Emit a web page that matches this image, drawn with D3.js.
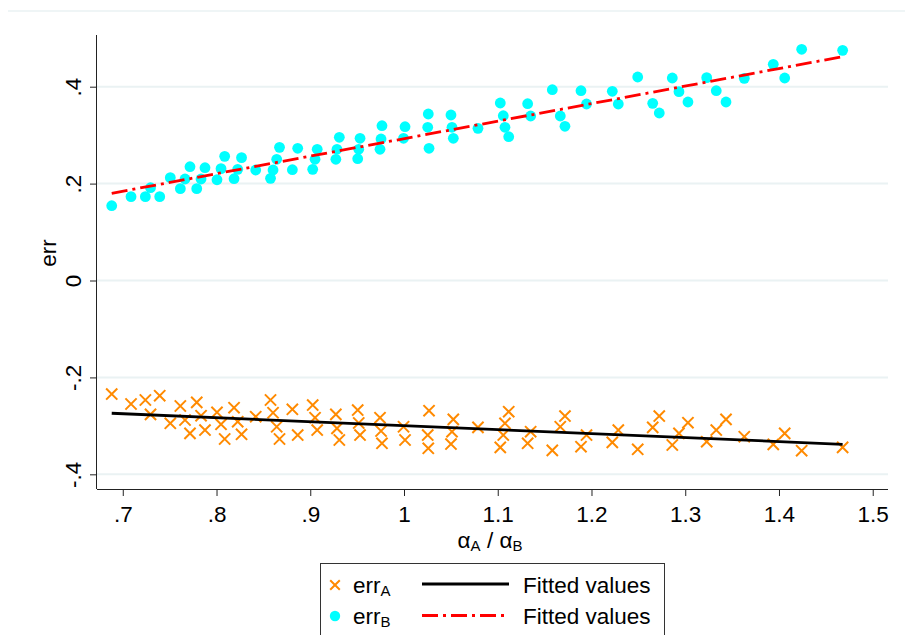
<!DOCTYPE html>
<html>
<head>
<meta charset="utf-8">
<script src="https://cdn.jsdelivr.net/npm/d3@7/dist/d3.min.js"></script>
<style>
  html, body { margin: 0; padding: 0; background: #fff; }
  svg { display: block; }
  text { font-family: "Liberation Sans", Arial, Helvetica, sans-serif; fill: #000; }
</style>
</head>
<body>
<svg id="chart" width="905" height="635"></svg>
<script>
// ---- data ----
const ratio = [0.6882,0.7088,0.7241,0.7296,0.7394,0.7507,0.7614,0.7664,0.7717,0.7789,
  0.7835,0.7877,0.8005,0.8048,0.8087,0.8187,0.8226,0.8267,0.8418,0.8576,
  0.8603,0.8642,0.8672,0.8809,0.8866,0.9026,0.9051,0.9074,0.9273,0.9285,
  0.9310,0.9506,0.9517,0.9531,0.9744,0.9755,0.9765,0.9995,1.0011,1.0253,
  1.0259,1.0267,1.0501,1.0512,1.0526,1.0789,1.1027,1.1059,1.1077,1.1117,
  1.1319,1.1351,1.1582,1.1667,1.1717,1.1888,1.1947,1.2222,1.2286,1.2493,
  1.2653,1.2723,1.2862,1.2933,1.3029,1.3229,1.3331,1.3435,1.3630,1.3939,
  1.4061,1.4242,1.4679];
const errA = [-0.2343,-0.2549,-0.2466,-0.2762,-0.2378,-0.2947,-0.2590,-0.2879,-0.3154,-0.2514,
  -0.2790,-0.3086,-0.2720,-0.2968,-0.3271,-0.2625,-0.2914,-0.3174,-0.2811,-0.2466,
  -0.2729,-0.3018,-0.3271,-0.2658,-0.3189,-0.2570,-0.2832,-0.3086,-0.2762,-0.3051,
  -0.3292,-0.2673,-0.2941,-0.3189,-0.2832,-0.3106,-0.3360,-0.3018,-0.3292,-0.3189,
  -0.3463,-0.2687,-0.3375,-0.3121,-0.2865,-0.3030,-0.3443,-0.3189,-0.2947,-0.2708,
  -0.3360,-0.3121,-0.3505,-0.3018,-0.2797,-0.3430,-0.3189,-0.3340,-0.3086,-0.3484,
  -0.3030,-0.2797,-0.3395,-0.3154,-0.2935,-0.3327,-0.3086,-0.2865,-0.3224,-0.3381,
  -0.3154,-0.3513,-0.3443];
const errB = [0.1544,0.1730,0.1730,0.1915,0.1730,0.2122,0.1895,0.2095,0.2349,0.1895,
  0.2095,0.2328,0.2080,0.2308,0.2563,0.2101,0.2295,0.2535,0.2281,0.2109,
  0.2281,0.2502,0.2749,0.2287,0.2729,0.2295,0.2502,0.2708,0.2502,0.2708,
  0.2956,0.2514,0.2708,0.2935,0.2708,0.2921,0.3195,0.2935,0.3174,0.3162,
  0.3437,0.2729,0.3416,0.3162,0.2935,0.3141,0.3664,0.3401,0.3162,0.2968,
  0.3649,0.3395,0.3938,0.3395,0.3183,0.3917,0.3643,0.3905,0.3643,0.4200,
  0.3657,0.3457,0.4180,0.3897,0.3684,0.4186,0.3917,0.3684,0.4173,0.4462,
  0.4180,0.4772,0.4751];
// fitted values (endpoints of the two regression lines)
const fitX = [0.6882, 1.4679];
const fitA = [-0.274, -0.338];
const fitB = [0.180, 0.462];

const xTicks = [0.7,0.8,0.9,1.0,1.1,1.2,1.3,1.4,1.5];
const xTickLabels = [".7",".8",".9","1","1.1","1.2","1.3","1.4","1.5"];
const yTicks = [-0.4,-0.2,0,0.2,0.4];
const yTickLabels = ["-.4","-.2","0",".2",".4"];

// ---- layout ----
const svg = d3.select("#chart");
const L = 97, R = 888, T = 35, B = 489;
const x = d3.scaleLinear().domain([0.6725, 1.5163]).range([L, R]);
const y = d3.scaleLinear().domain([-0.4303, 0.5067]).range([B, T]);

const FS = 22.5;
const gridCol = "#eaf2f3";
const orange = "#ff8a00";
const cyan = "#00ffff";

// outer faint line at top
svg.append("line").attr("x1", 8).attr("x2", 905).attr("y1", 11).attr("y2", 11)
  .attr("stroke", gridCol).attr("stroke-width", 1.5);

// gridlines
svg.append("g").selectAll("line").data(yTicks).join("line")
  .attr("x1", L).attr("x2", R)
  .attr("y1", d => y(d)).attr("y2", d => y(d))
  .attr("stroke", gridCol).attr("stroke-width", 2);

// axes
const xAxis = d3.axisBottom(x).tickValues(xTicks)
  .tickFormat((d,i) => xTickLabels[i]).tickSize(7).tickPadding(10).tickSizeOuter(0);
const gx = svg.append("g").attr("transform", `translate(0,${B})`).call(xAxis);
gx.select(".domain").attr("stroke", "#222").attr("d", `M${L},0.5H${R}`);
gx.selectAll(".tick line").attr("stroke", "#222");
gx.selectAll(".tick text").attr("font-size", FS).attr("font-family", "Liberation Sans, Arial, sans-serif").attr("fill", "#000");

const yAxis = d3.axisLeft(y).tickValues(yTicks)
  .tickFormat((d,i) => yTickLabels[i]).tickSize(7).tickPadding(0).tickSizeOuter(0);
const gy = svg.append("g").attr("transform", `translate(${L},0)`).call(yAxis);
gy.select(".domain").attr("stroke", "#222").attr("d", `M-0.5,${T}V${B}`);
gy.selectAll(".tick line").attr("stroke", "#222");
gy.selectAll(".tick text")
  .attr("font-size", FS).attr("font-family", "Liberation Sans, Arial, sans-serif").attr("fill", "#000")
  .attr("x", null).attr("dy", null)
  .attr("text-anchor", "middle")
  .attr("transform", "translate(-16,0) rotate(-90)");

// axis titles
svg.append("text").attr("transform", "translate(56,253) rotate(-90)")
  .attr("text-anchor", "middle").attr("font-size", FS).text("err");

const xt = svg.append("text").attr("x", 490).attr("y", 548)
  .attr("text-anchor", "middle").attr("font-size", FS);
xt.append("tspan").text("α");
xt.append("tspan").attr("font-size", 15).attr("dy", 3).text("A");
xt.append("tspan").attr("dy", -3).text(" / α");
xt.append("tspan").attr("font-size", 15).attr("dy", 3).text("B");

// data
const pts = ratio.map((r, i) => ({ r, a: errA[i], b: errB[i] }));

// cyan circles (errB)
svg.append("g").selectAll("circle").data(pts).join("circle")
  .attr("cx", d => x(d.r)).attr("cy", d => y(d.b)).attr("r", 5.4)
  .attr("fill", cyan);

// orange crosses (errA)
const cs = 5.6;
svg.append("g").selectAll("path").data(pts).join("path")
  .attr("d", d => {
    const cx = x(d.r), cy = y(d.a);
    return `M${cx-cs},${cy-cs}L${cx+cs},${cy+cs}M${cx-cs},${cy+cs}L${cx+cs},${cy-cs}`;
  })
  .attr("stroke", orange).attr("stroke-width", 2).attr("fill", "none");

// fitted lines
const line = d3.line().x(d => x(d[0])).y(d => y(d[1]));
svg.append("path").datum(fitX.map((v, i) => [v, fitA[i]])).attr("d", line)
  .attr("stroke", "#000").attr("stroke-width", 2.8).attr("fill", "none");
svg.append("path").datum(fitX.map((v, i) => [v, fitB[i]])).attr("d", line)
  .attr("stroke", "#ff0000").attr("stroke-width", 2.8).attr("fill", "none")
  .attr("stroke-dasharray", "16,5,3,5");

// legend
const lg = svg.append("g");
lg.append("rect").attr("x", 320.5).attr("y", 563.5).attr("width", 344).attr("height", 90)
  .attr("fill", "#fff").attr("stroke", "#333").attr("stroke-width", 1);
const ls = 4.8;
lg.append("path").attr("d", `M${335-ls},${585-ls}L${335+ls},${585+ls}M${335-ls},${585+ls}L${335+ls},${585-ls}`)
  .attr("stroke", orange).attr("stroke-width", 2).attr("fill", "none");
lg.append("circle").attr("cx", 335).attr("cy", 616).attr("r", 5.2).attr("fill", cyan);

function legText(yb, sub) {
  const t = lg.append("text").attr("x", 353).attr("y", yb).attr("font-size", FS);
  t.append("tspan").text("err");
  t.append("tspan").attr("font-size", 15).attr("dy", 3).text(sub);
}
legText(593, "A");
legText(624, "B");
lg.append("line").attr("x1", 422).attr("x2", 509).attr("y1", 584).attr("y2", 584)
  .attr("stroke", "#000").attr("stroke-width", 2.8);
lg.append("line").attr("x1", 422).attr("x2", 509).attr("y1", 615.5).attr("y2", 615.5)
  .attr("stroke", "#ff0000").attr("stroke-width", 2.8).attr("stroke-dasharray", "16,5,3,5");
lg.append("text").attr("x", 523).attr("y", 593).attr("font-size", FS).text("Fitted values");
lg.append("text").attr("x", 523).attr("y", 624).attr("font-size", FS).text("Fitted values");
</script>
</body>
</html>
